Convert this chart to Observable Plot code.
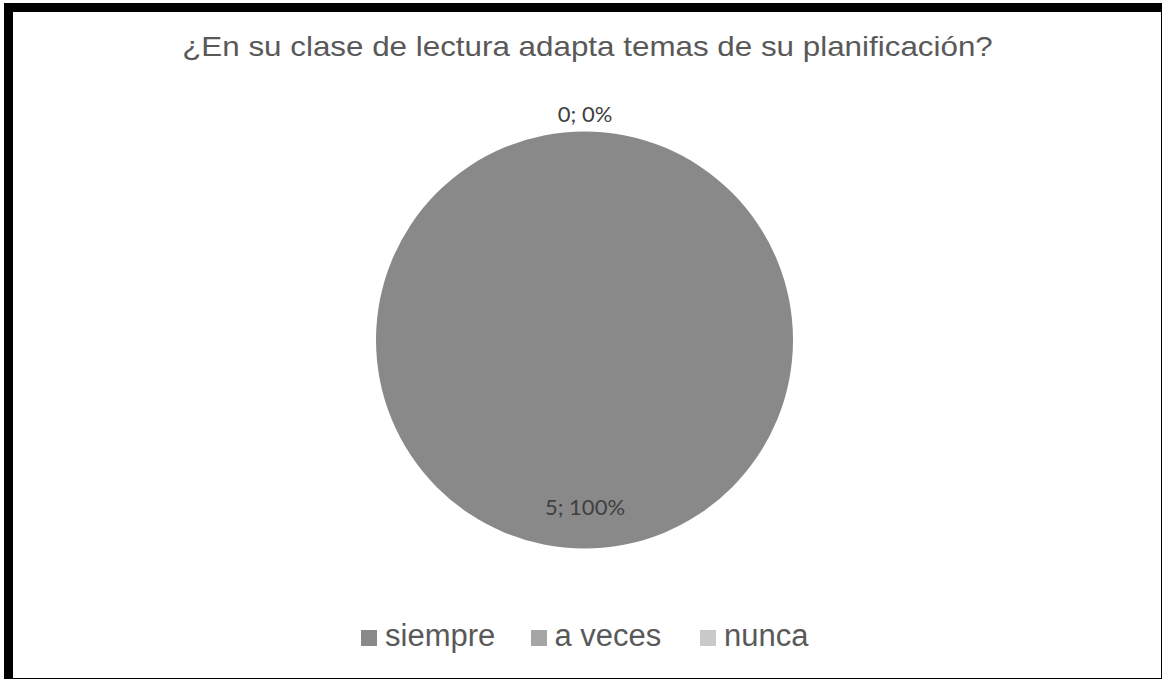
<!DOCTYPE html>
<html>
<head>
<meta charset="utf-8">
<script src="https://cdn.jsdelivr.net/npm/d3@7"></script>
<script src="https://cdn.jsdelivr.net/npm/@observablehq/plot@0.6"></script>
<style>
  html, body { margin: 0; padding: 0; background: #fff; width: 1162px; height: 679px; overflow: hidden; }
  #frame { position: absolute; left: 4px; top: 3px; width: 1166px; height: 684px; border: 9px solid #000; box-sizing: border-box; }
  #title { position: absolute; left: 0; width: 1175px; top: 31px; text-align: center; font-family: "Liberation Sans", Arial, sans-serif; font-size: 28px; color: #595959; white-space: nowrap; transform: scaleX(1.12); transform-origin: 587.5px 0; }
  #chart { position: absolute; left: 0; top: 90px; }
  #legend { position: absolute; left: 361px; top: 618px; display: flex; font-family: "Liberation Sans", Arial, sans-serif; font-size: 31px; color: #595959; }
  .item { display: flex; align-items: center; width: 169.5px; }
  .sw { width: 16px; height: 16px; margin-right: 8px; margin-top: 3px; flex: none; }
</style>
</head>
<body>
<div id="frame"></div>
<div id="title"></div>
<div id="chart"></div>
<div id="legend"></div>
<script>
const titleText = "¿En su clase de lectura adapta temas de su planificación?";
const categories = ["siempre", "a veces", "nunca"];
const counts = [5, 0, 0];
const colors = ["#898989", "#a5a5a5", "#c9c9c9"];

document.getElementById("title").textContent = titleText;

const total = d3.sum(counts);
const arcs = d3.pie().sort(null).value(d => d.count)(
  categories.map((c, i) => ({category: c, count: counts[i]}))
);
const labels = arcs.map(a => {
  const mid = (a.startAngle + a.endAngle) / 2;
  const empty = a.data.count === 0;
  const rho = empty ? 1.08 : 0.805;
  return {
    x: rho * Math.sin(mid),
    y: rho * Math.cos(mid),
    text: `${a.data.count}; ${Math.round(100 * a.data.count / total)}%`,
    category: a.data.category
  };
});
// the zero slices' labels overlap in the original; keep one per position
const shown = labels.filter((d, i, arr) => arr.findIndex(e => Math.abs(e.x - d.x) < 1e-6 && Math.abs(e.y - d.y) < 1e-6) === i);

const cx = 584.5, cy = 250, R = 208.5;

const pieMark = (index, scales) => {
  const x0 = scales.x(0), y0 = scales.y(0);
  const r = scales.x(1) - x0;
  const g = d3.create("svg:g").attr("transform", `translate(${x0},${y0})`);
  const arcGen = d3.arc().innerRadius(0).outerRadius(r);
  g.selectAll("path")
    .data(arcs.filter(a => a.endAngle > a.startAngle))
    .join("path")
    .attr("d", arcGen)
    .attr("fill", d => scales.color(d.data.category));
  return g.node();
};

const plot = Plot.plot({
  width: 1162,
  height: 500,
  margin: 0,
  x: {domain: [-1, 1], range: [cx - R, cx + R], axis: null},
  y: {domain: [-1, 1], range: [cy + R, cy - R], axis: null},
  color: {type: "ordinal", domain: categories, range: colors},
  style: {background: "transparent", overflow: "visible"},
  marks: [
    pieMark,
    Plot.text(shown, {
      x: "x", y: "y", text: "text",
      fill: "#404040",
      fontSize: 22,
      fontFamily: "Lato, 'Open Sans', sans-serif"
    })
  ]
});
document.getElementById("chart").appendChild(plot);

const color = plot.scale("color");
const legend = document.getElementById("legend");
categories.forEach((c, i) => {
  const item = document.createElement("div");
  item.className = "item";
  const sw = document.createElement("div");
  sw.className = "sw";
  sw.style.background = color.range[i];
  const label = document.createElement("span");
  label.textContent = c;
  item.appendChild(sw);
  item.appendChild(label);
  legend.appendChild(item);
});
</script>
</body>
</html>
